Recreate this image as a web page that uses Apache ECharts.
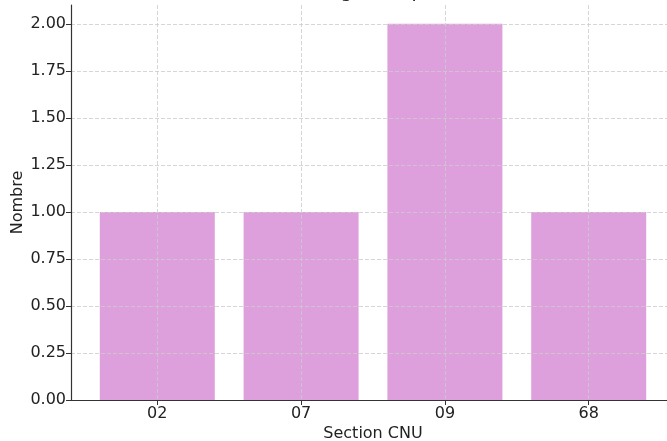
<!DOCTYPE html>
<html><head><meta charset="utf-8">
<script src="https://cdn.jsdelivr.net/npm/echarts@6/dist/echarts.min.js"></script>
<style>html,body{margin:0;padding:0;background:#fff}#c{width:667px;height:441px}</style>
</head><body><div id="c"></div>
<script>
const titleText = "Nombre d'enseignants par section CNU";
const categories = ['02', '07', '09', '68'];
const values = [1, 1, 2, 1];
const xLabel = 'Section CNU';
const yLabel = 'Nombre';
const yMin = 0, yMax = 2.1, yStep = 0.25;

const chart = echarts.init(document.getElementById('c'), null, {renderer: 'canvas'});
const font = 'DejaVu Sans';
const positions = categories.map((c, i) => i);
chart.setOption({
  animation: false,
  backgroundColor: '#ffffff',
  title: {
    text: titleText, left: 373, top: -22, textAlign: 'center',
    textStyle: {fontFamily: font, fontSize: 19, fontWeight: 'normal', color: '#222'}
  },
  grid: {left: 71, top: 5, width: 604, height: 395, containLabel: false, outerBoundsMode: 'none'},
  xAxis: {
    type: 'value', min: -0.6, max: 3.6, z: 5,
    name: xLabel, nameLocation: 'middle', nameGap: 26, nameMoveOverlap: false,
    nameTextStyle: {fontFamily: font, fontSize: 16, color: '#222'},
    axisLine: {show: true, onZero: false, lineStyle: {color: '#333', width: 1.2}},
    axisTick: {show: true, length: 5, customValues: positions, lineStyle: {color: '#333', width: 1}},
    axisLabel: {customValues: positions, formatter: v => categories[Math.round(v)], fontFamily: font, fontSize: 16, color: '#222', margin: 6},
    splitLine: {show: true, lineStyle: {color: '#cccccc', type: [4, 2], width: 0.8}}
  },
  yAxis: {
    type: 'value', min: yMin, max: yMax, interval: yStep, z: 5,
    name: yLabel, nameLocation: 'middle', nameGap: 45, nameMoveOverlap: false,
    nameTextStyle: {fontFamily: font, fontSize: 16, color: '#222'},
    axisLine: {show: true, onZero: false, lineStyle: {color: '#333', width: 1.2}},
    axisTick: {show: true, length: 5, lineStyle: {color: '#333', width: 1}},
    axisLabel: {formatter: v => v.toFixed(2), showMaxLabel: false, fontFamily: font, fontSize: 16, color: '#222', margin: 5},
    splitLine: {show: true, showMaxLine: false, lineStyle: {color: '#cccccc', type: [4, 2], width: 0.8}}
  },
  series: [{
    type: 'bar',
    data: values.map((v, i) => [positions[i], v]),
    barWidth: 115,
    itemStyle: {color: '#dda0dd'}
  }]
});
</script></body></html>
